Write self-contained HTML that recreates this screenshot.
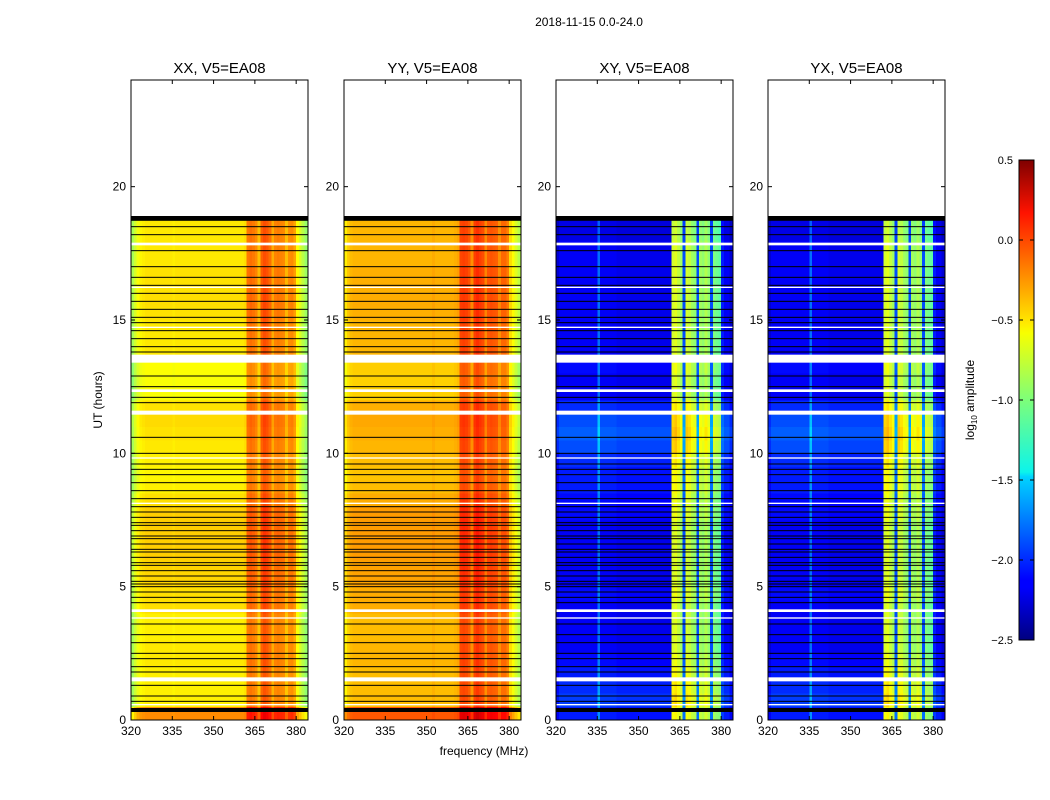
<!DOCTYPE html>
<html><head><meta charset="utf-8"><style>
body{margin:0;background:#fff;width:1050px;height:800px;overflow:hidden;font-family:"Liberation Sans",sans-serif}
svg{position:absolute;left:0;top:0}
</style></head><body>
<svg id="chart" width="1050" height="800" font-family="Liberation Sans, sans-serif">
<defs><linearGradient id="jet" x1="0" y1="1" x2="0" y2="0">
<stop offset="0" stop-color="#00007f"/><stop offset="0.11" stop-color="#0000ff"/><stop offset="0.125" stop-color="#0000ff"/>
<stop offset="0.34" stop-color="#00d4ff"/><stop offset="0.35" stop-color="#0cf4eb"/><stop offset="0.5" stop-color="#7dff7a"/>
<stop offset="0.64" stop-color="#f8ff00"/><stop offset="0.66" stop-color="#ffea00"/><stop offset="0.89" stop-color="#ff1300"/><stop offset="1" stop-color="#7f0000"/>
</linearGradient></defs>
<text x="589" y="26" font-size="12" text-anchor="middle">2018-11-15 0.0-24.0</text>
<g id="panels"></g>
<text transform="translate(102,400) rotate(-90)" font-size="12" text-anchor="middle">UT (hours)</text>
<text x="484" y="755" font-size="12" text-anchor="middle">frequency (MHz)</text>
<g>
<rect x="1019" y="160" width="15" height="480" fill="url(#jet)" stroke="#000" stroke-width="1"/>
<g id="cbticks"></g>
<text transform="translate(974,400) rotate(-90)" font-size="12" text-anchor="middle">log<tspan font-size="8" dy="3">10</tspan><tspan dy="-3"> amplitude</tspan></text>
</g>
</svg>
<script>
const panelTitles=["XX, V5=EA08","YY, V5=EA08","XY, V5=EA08","YX, V5=EA08"];
const xTicks=[320,335,350,365,380];
const yTicks=[0,5,10,15,20];
const cbTicks=[0.5,0.0,-0.5,-1.0,-1.5,-2.0,-2.5];
// column profiles, 1 MHz bins from 320 to 383
const xxCols=[-0.9,-0.78,-0.68,-0.62,-0.6,-0.58,-0.58,-0.58,-0.58,-0.58,-0.58,-0.58,-0.58,-0.58,-0.58,-0.6,-0.58,-0.58,-0.58,-0.58,-0.58,-0.58,-0.58,-0.58,-0.58,-0.58,-0.58,-0.58,-0.58,-0.58,-0.58,-0.58,-0.58,-0.58,-0.58,-0.58,-0.58,-0.58,-0.58,-0.58,-0.58,-0.55,-0.25,-0.22,-0.25,-0.3,-0.45,-0.18,-0.12,-0.15,-0.22,-0.4,-0.28,-0.26,-0.28,-0.3,-0.45,-0.32,-0.3,-0.38,-0.65,-0.75,-0.85,-0.95];
const yyCols=[-0.6,-0.5,-0.45,-0.43,-0.43,-0.43,-0.43,-0.43,-0.43,-0.43,-0.43,-0.43,-0.43,-0.43,-0.43,-0.43,-0.43,-0.43,-0.43,-0.43,-0.43,-0.43,-0.43,-0.43,-0.43,-0.43,-0.43,-0.43,-0.43,-0.43,-0.43,-0.43,-0.4,-0.43,-0.43,-0.43,-0.43,-0.43,-0.43,-0.43,-0.41,-0.38,-0.1,-0.08,-0.1,-0.15,-0.32,-0.08,-0.04,-0.08,-0.12,-0.3,-0.16,-0.14,-0.16,-0.18,-0.32,-0.2,-0.2,-0.28,-0.55,-0.65,-0.75,-0.85];
const xyCols=[-2.25,-2.15,-2.15,-2.15,-2.15,-2.15,-2.15,-2.15,-2.15,-2.15,-2.15,-2.15,-2.15,-2.15,-2.15,-1.8,-2.15,-2.15,-2.15,-2.15,-2.15,-2.15,-2.18,-2.18,-2.18,-2.18,-2.18,-2.18,-2.18,-2.18,-2.18,-2.18,-2.18,-2.18,-2.18,-2.18,-2.18,-2.18,-2.18,-2.18,-2.18,-2.18,-0.75,-0.7,-0.8,-0.9,-1.9,-0.75,-0.8,-0.9,-0.95,-1.9,-0.9,-0.95,-0.85,-0.95,-1.9,-1.0,-1.05,-1.1,-2.05,-2.15,-2.15,-2.25];
const yxCols=xyCols;
// row offsets per half hour, 0..19h
const parRows=[0.3,0,0,0,0.02,0.02,0,0,0.05,0.05,0.08,0.08,0.1,0.1,0.1,0.1,0.05,0,-0.02,0,0.02,0.04,0.06,0.04,-0.06,-0.06,-0.05,0.02,0.02,0.02,0.04,0.05,0.04,0.04,0.02,0.02,0.02,0.02];
const crossRows=[0.1,0.2,0.15,0.1,0.05,0,0,0,0,0.05,0,0,0,0,0,0.05,0.05,0.1,0.1,0.15,0.25,0.3,0.25,0.15,0,0,0.05,0,0,0,0,0,0,0,0,0,-0.05,-0.05];
const flagLines=[18.5,18.2,17.6,17.0,16.6,16.3,16.0,15.7,15.4,15.1,14.9,14.6,14.3,14.0,13.8,12.9,12.5,12.1,11.9,10.6,10.0,9.6,9.4,9.2,8.9,8.6,8.3,8.0,7.8,7.6,7.4,7.3,7.1,6.9,6.8,6.6,6.4,6.3,6.1,5.9,5.8,5.6,5.4,5.2,5.1,5.0,4.8,4.6,4.4,3.6,3.2,2.9,2.5,2.3,2.0,1.8,1.3,0.9,0.7];
const gapStarts=[13.4,11.45,12.3,17.8,14.7,4.05,3.8,1.45,0.55,16.2,8.1,9.8];
const gapEnds=[13.7,11.6,12.4,17.9,14.75,4.15,3.85,1.6,0.6,16.25,8.15,9.85];
const bandStarts=[18.72,0.3];
const bandEnds=[18.9,0.45];
const dataEnd=18.9;

const panelX=[131,344,556,768],PW=177,PT=80,PB=720;
const fMin=320,fMax=384.3,tMax=24;
const xs=(px,f)=>px+(f-fMin)/(fMax-fMin)*PW;
const ys=t=>PB-t/tMax*(PB-PT);
function jet(v){let t=(v+2.5)/3;t=Math.max(0,Math.min(1,t));
const c=x=>Math.round(255*Math.max(0,Math.min(1,1.5-Math.abs(4*t-x))));
return `rgb(${c(3)},${c(2)},${c(1)})`;}
const NS="http://www.w3.org/2000/svg";
const g=document.getElementById('panels');
function mk(tag,attrs,parent){const e=document.createElementNS(NS,tag);for(const k in attrs)e.setAttribute(k,attrs[k]);parent.appendChild(e);return e;}
const cols=[xxCols,yyCols,xyCols,yxCols];
panelTitles.forEach((title,p)=>{
 const px=panelX[p];
 const pg=mk('g',{},g);
 
 
 const rows=p<2?parRows:crossRows;
 const prof=cols[p];
 const hm=mk('g',{'shape-rendering':'crispEdges'},pg);
 
 
 rows.forEach((ro,r)=>{
  const t0=r*0.5,t1=Math.min(dataEnd,(r+1)*0.5);
  prof.forEach((cv,c)=>{
   const x0=xs(px,fMin+c),x1=Math.min(px+PW,xs(px,fMin+c+1));
   const cell=mk('rect',{x:x0,y:ys(t1),width:x1-x0+0.4,height:ys(t0)-ys(t1)+0.4,fill:jet(cv+ro)},hm);
   
   
  });
 });
 gapStarts.forEach((s,i)=>{const e=mk('rect',{x:px,y:ys(gapEnds[i]),width:PW,height:ys(s)-ys(gapEnds[i]),fill:'#fff'},pg);
  });
 flagLines.forEach(t=>{const e=mk('rect',{x:px,y:ys(t)-0.5,width:PW,height:1,fill:'#000'},pg);
  });
 bandStarts.forEach((s,i)=>{const e=mk('rect',{x:px,y:ys(bandEnds[i]),width:PW,height:ys(s)-ys(bandEnds[i]),fill:'#000'},pg);
  });
 const fr=mk('rect',{x:px,y:PT,width:PW,height:PB-PT,fill:'none',stroke:'#000','stroke-width':1},pg);
 
 const tt=mk('text',{x:px+PW/2,y:73,'font-size':15,'text-anchor':'middle'},pg);tt.textContent=title;
 
 xTicks.forEach(f=>{const x=xs(px,f);
  mk('line',{x1:x,x2:x,y1:PB,y2:PB-4,stroke:'#000'},pg);mk('line',{x1:x,x2:x,y1:PT,y2:PT+4,stroke:'#000'},pg);
  const l=mk('text',{x:x,y:PB+15,'font-size':12,'text-anchor':'middle'},pg);l.textContent=f;
  });
 yTicks.forEach(t=>{const y=ys(t);
  mk('line',{x1:px,x2:px+4,y1:y,y2:y,stroke:'#000'},pg);mk('line',{x1:px+PW,x2:px+PW-4,y1:y,y2:y,stroke:'#000'},pg);
  const l=mk('text',{x:px-5,y:y+4,'font-size':12,'text-anchor':'end'},pg);l.textContent=t;
  });
});
const cb=document.getElementById('cbticks');
cbTicks.forEach(v=>{const y=160+(0.5-v)/3*480;
 mk('line',{x1:1019,x2:1023,y1:y,y2:y,stroke:'#000'},cb);
 mk('line',{x1:1030,x2:1034,y1:y,y2:y,stroke:'#000'},cb);
 const l=mk('text',{x:1013,y:y+4,'font-size':11,'text-anchor':'end'},cb);l.textContent=(v<0?'\u2212':'')+Math.abs(v).toFixed(1);
 });
</script>
</body></html>
